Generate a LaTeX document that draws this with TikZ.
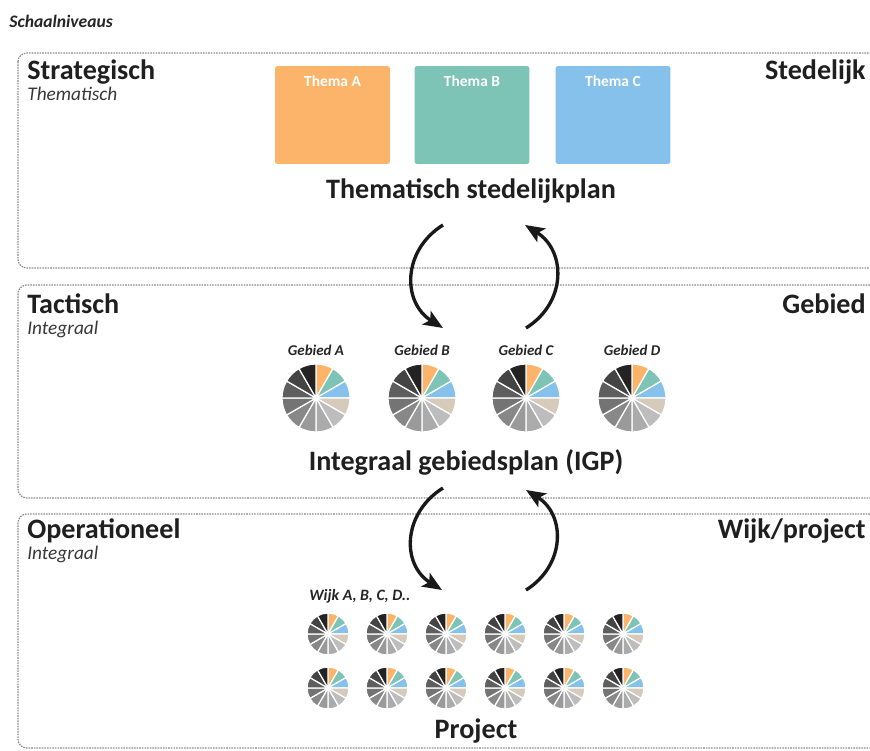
\documentclass[tikz,border=0pt]{standalone}
\usepackage{fontspec}
\setmainfont{Carlito}
\usetikzlibrary{arrows.meta}
\definecolor{themaA}{HTML}{FBB469}
\definecolor{themaB}{HTML}{7DC3B6}
\definecolor{themaC}{HTML}{85C1EA}
\definecolor{taartD}{HTML}{D6CABA}
\definecolor{taartE}{HTML}{BDBDBD}
\definecolor{taartF}{HTML}{ABABAB}
\definecolor{taartG}{HTML}{9A9A9A}
\definecolor{taartH}{HTML}{888888}
\definecolor{taartI}{HTML}{747474}
\definecolor{taartJ}{HTML}{5E5E5E}
\definecolor{taartK}{HTML}{444444}
\definecolor{taartL}{HTML}{232323}
\tikzset{
 band/.style={draw=black!45, dash pattern=on 0.9pt off 0.6pt, line width=0.7pt, rounded corners=5pt},
 niveau/.style={anchor=base west, inner sep=0pt, text=black!88, font=\bfseries\fontsize{16}{19}\selectfont},
 aard/.style={anchor=base west, inner sep=0pt, text=black!78, font=\itshape\fontsize{11}{13}\selectfont},
 schaal/.style={anchor=base east, inner sep=0pt, text=black!88, font=\bfseries\fontsize{16}{19}\selectfont},
 plan/.style={anchor=base, inner sep=0pt, text=black!88, font=\bfseries\fontsize{16}{19}\selectfont},
 klein/.style={inner sep=0pt, text=black!85, font=\bfseries\itshape\fontsize{8.5}{10}\selectfont},
 thema/.style={fill=#1, minimum width=2.3cm, minimum height=1.96cm, inner sep=0pt, rounded corners=1.5pt},
 themalabel/.style={anchor=north, inner sep=0pt, yshift=-0.2cm, text=white, font=\bfseries\fontsize{8.8}{10}\selectfont},
 cyclus/.style={line width=1.9pt, black!90, -{Stealth[length=11pt, width=9pt, inset=2.5pt]}},
}
\newcommand{\taartdiagram}[3]{
 \coordinate (#1) at #2;
 \foreach \kleur [count=\i from 0] in {themaA,themaB,themaC,taartD,taartE,taartF,taartG,taartH,taartI,taartJ,taartK,taartL}
  \fill[\kleur, draw=white, line width=0.7pt] (#1) -- ++({90-30*\i}:#3) arc[start angle={90-30*\i}, delta angle=-30, radius=#3] -- cycle;
}
\begin{document}
\begin{tikzpicture}[x=0.02cm, y=0.02cm]
 \useasboundingbox[fill=white] (0,0) rectangle (870,-751);
 \clip (0,0) rectangle (870,-751);
 \node[klein, anchor=base west, font=\bfseries\itshape\fontsize{10}{12}\selectfont] (titel) at (9,-27) {Schaalniveaus};

 \draw[band] (18,-53) rectangle (900,-268);
 \draw[band] (18,-285) rectangle (900,-498);
 \draw[band] (18,-514) rectangle (900,-748);

 \node[niveau] (strategisch) at (27,-79) {Strategisch};
 \node[aard] (thematisch) at (27,-100) {Thematisch};
 \node[schaal] (stedelijk) at (866,-79) {Stedelijk};
 \node[thema=themaA, label={[themalabel]north:Thema A}] (themaA) at (332.5,-115) {};
 \node[thema=themaB, label={[themalabel]north:Thema B}] (themaB) at (472,-115) {};
 \node[thema=themaC, label={[themalabel]north:Thema C}] (themaC) at (613,-115) {};
 \node[plan] (stedelijkplan) at (471,-198) {Thematisch stedelijkplan};

 \node[niveau] (tactisch) at (27,-313) {Tactisch};
 \node[aard] (integraal1) at (27,-334) {Integraal};
 \node[schaal] (gebied) at (866,-313) {Gebied};
 \foreach \naam/\x in {A/316,B/422,C/526,D/632}{
  \node[klein, anchor=base] (label\naam) at (\x,-355) {Gebied \naam};
  \taartdiagram{gebied\naam}{(\x,-398)}{34}
 }
 \node[plan] (igp) at (466,-470) {Integraal gebiedsplan (IGP)};

 \node[niveau] (operationeel) at (27,-538) {Operationeel};
 \node[aard] (integraal2) at (27,-559) {Integraal};
 \node[schaal] (wijkproject) at (866,-538) {Wijk/project};
 \node[klein, anchor=base west, font=\bfseries\itshape\fontsize{9}{11}\selectfont] (wijken) at (309,-600) {Wijk A, B, C, D..};
 \foreach \k in {0,...,5}{
  \taartdiagram{wijkboven\k}{(328+59*\k,-634)}{21}
  \taartdiagram{wijkonder\k}{(328+59*\k,-688)}{21}
 }
 \node[plan] (project) at (476,-738) {Project};

 \coordinate (neer1) at (443,-225);
 \coordinate (neer1b) at (443,-328);
 \coordinate (op1) at (526,-328);
 \coordinate (op1b) at (525,-225);
 \coordinate (neer2) at (443,-488);
 \coordinate (neer2b) at (442,-590);
 \coordinate (op2) at (526,-590);
 \coordinate (op2b) at (526,-490);
 \path (neer1) edge [cyclus, out=212, in=148, looseness=1.2] (neer1b);
 \path (op1) edge [cyclus, out=32, in=-32, looseness=1.2] (op1b);
 \path (neer2) edge [cyclus, out=212, in=148, looseness=1.2] (neer2b);
 \path (op2) edge [cyclus, out=32, in=-32, looseness=1.2] (op2b);
\end{tikzpicture}
\end{document}
